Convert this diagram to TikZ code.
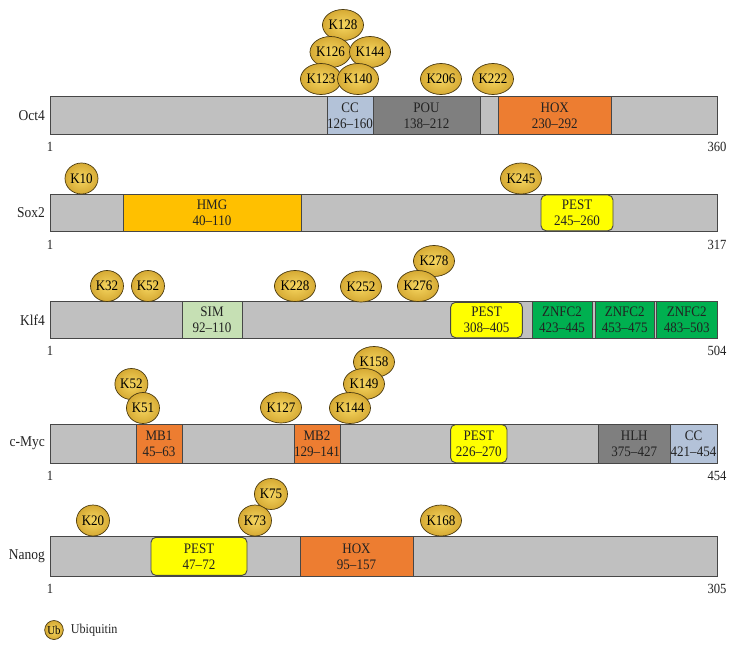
\documentclass[tikz,border=0pt]{standalone}
\usepackage{fontspec}
\setmainfont{Liberation Serif}[FakeStretch=0.9]
\usetikzlibrary{shapes.geometric}
\definecolor{edge}{HTML}{474747}
\definecolor{bargrey}{HTML}{C0C0C0}
\definecolor{ccblue}{HTML}{B3C2D8}
\definecolor{dgrey}{HTML}{7F7F7F}
\definecolor{orng}{HTML}{ED7D31}
\definecolor{amber}{HTML}{FFC000}
\definecolor{pesty}{HTML}{FFFF00}
\definecolor{simg}{HTML}{C6E0B4}
\definecolor{zgreen}{HTML}{00B050}
\definecolor{txt}{HTML}{222222}
\definecolor{ubin}{HTML}{F6D660}
\definecolor{ubout}{HTML}{D6AA34}
\definecolor{ubedge}{HTML}{4A3A10}
\newcommand\dbox[7]{%
  \node[#1, minimum width={(#4)-(#3)}, minimum height={(#6)-(#5)}] (#2)
    at ({((#3)+(#4))/2},{((#5)+(#6))/2}) {#7};}
\begin{document}
\begin{tikzpicture}[x=1pt,y=-1pt,
  bar/.style={draw=edge, fill=bargrey, line width=0.9pt, inner sep=0pt, outer sep=0pt},
  dom/.style={draw=edge, line width=0.9pt, inner sep=0pt, outer sep=0pt, align=center,
    font=\fontsize{14.5}{16}\selectfont, text=txt},
  pest/.style={dom, fill=pesty, rounded corners=5pt},
  ub/.style={ellipse, draw=ubedge, line width=0.7pt, inner color=ubin, outer color=ubout,
    minimum width=33pt, minimum height=31pt, inner sep=0pt, text=black,
    font=\fontsize{14.5}{15}\selectfont},
  plab/.style={anchor=east, inner sep=0pt, font=\fontsize{15}{15}\selectfont, text=txt},
  num/.style={anchor=north, inner sep=0pt, font=\fontsize{14}{14}\selectfont, text=txt}]
\useasboundingbox (0,0) rectangle (736,648);

% ---------------- Oct4
\dbox{bar}{oct}{50}{717}{96.7}{134.3}{}
\dbox{dom, fill=ccblue}{octcc}{327}{373}{96.7}{134.3}{CC\\126–160}
\dbox{dom, fill=dgrey}{octpou}{373}{480}{96.7}{134.3}{POU\\138–212}
\dbox{dom, fill=orng}{octhox}{498.5}{611}{96.7}{134.3}{HOX\\230–292}
\node[plab] (octlab) at ([xshift=-5pt]oct.west) {Oct4};
\node[num, below=8pt] (octa) at (oct.south west) {1};
\node[num, below=8pt] (octb) at (oct.south east) {360};
\node[ub] (o128) at (343,25) {K128};
\node[ub] (o126) at (330.5,52) {K126};
\node[ub] (o144) at (370,52) {K144};
\node[ub] (o123) at (321,79) {K123};
\node[ub] (o140) at (358,79) {K140};
\node[ub] (o206) at (441,79) {K206};
\node[ub] (o222) at (493,79) {K222};

% ---------------- Sox2
\dbox{bar}{sox}{50}{717}{194.3}{231.7}{}
\dbox{dom, fill=amber}{soxhmg}{123}{301}{194.3}{231.7}{HMG\\40–110}
\dbox{pest}{soxpest}{541}{613}{195}{230.7}{PEST\\245–260}
\node[plab] (soxlab) at ([xshift=-5pt]sox.west) {Sox2};
\node[num, below=8pt] (soxa) at (sox.south west) {1};
\node[num, below=8pt] (soxb) at (sox.south east) {317};
\node[ub] (s10) at (81.5,178.5) {K10};
\node[ub] (s245) at (521,178.5) {K245};

% ---------------- Klf4
\dbox{bar}{klf}{50}{717}{301.7}{338.3}{}
\dbox{dom, fill=simg}{klfsim}{182}{242}{301.7}{338.3}{SIM\\92–110}
\dbox{pest}{klfpest}{450.6}{522.4}{302.3}{337.7}{PEST\\308–405}
\dbox{dom, fill=zgreen}{klfz1}{532}{592}{301.7}{338.3}{ZNFC2\\423–445}
\dbox{dom, fill=zgreen}{klfz2}{595}{654.5}{301.7}{338.3}{ZNFC2\\453–475}
\dbox{dom, fill=zgreen}{klfz3}{656.5}{717}{301.7}{338.3}{ZNFC2\\483–503}
\node[plab] (klflab) at ([xshift=-5pt]klf.west) {Klf4};
\node[num, below=8pt] (klfa) at (klf.south west) {1};
\node[num, below=8pt] (klfb) at (klf.south east) {504};
\node[ub] (k278) at (434,261) {K278};
\node[ub] (k32) at (107,286) {K32};
\node[ub] (k52) at (148,286) {K52};
\node[ub] (k228) at (295,286) {K228};
\node[ub] (k252) at (361,286.5) {K252};
\node[ub] (k276) at (418,286) {K276};

% ---------------- c-Myc
\dbox{bar}{myc}{50}{717}{424}{463.3}{}
\dbox{dom, fill=orng}{mycmb1}{136}{182}{424}{463.3}{MB1\\45–63}
\dbox{dom, fill=orng}{mycmb2}{294}{340}{424}{463.3}{MB2\\129–141}
\dbox{pest}{mycpest}{450.6}{507}{424.6}{462.7}{PEST\\226–270}
\dbox{dom, fill=dgrey}{mychlh}{598.5}{670}{424}{463.3}{HLH\\375–427}
\dbox{dom, fill=ccblue}{myccc}{670}{717}{424}{463.3}{CC\\421–454}
\node[plab] (myclab) at ([xshift=-5pt]myc.west) {c-Myc};
\node[num, below=8pt] (myca) at (myc.south west) {1};
\node[num, below=8pt] (mycb) at (myc.south east) {454};
\node[ub] (m158) at (374,362) {K158};
\node[ub] (m52) at (131.4,384) {K52};
\node[ub] (m149) at (364,384) {K149};
\node[ub] (m51) at (143,408) {K51};
\node[ub] (m127) at (281,407.5) {K127};
\node[ub] (m144) at (350,408) {K144};

% ---------------- Nanog
\dbox{bar}{nan}{50}{717}{536.7}{576}{}
\dbox{pest}{nanpest}{151}{247}{537.3}{575.4}{PEST\\47–72}
\dbox{dom, fill=orng}{nanhox}{300}{413}{536.7}{576}{HOX\\95–157}
\node[plab] (nanlab) at ([xshift=-5pt]nan.west) {Nanog};
\node[num, below=8pt] (nana) at (nan.south west) {1};
\node[num, below=8pt] (nanb) at (nan.south east) {305};
\node[ub] (n75) at (271,494) {K75};
\node[ub] (n20) at (93,520.5) {K20};
\node[ub] (n73) at (255,520.5) {K73};
\node[ub] (n168) at (441,520.5) {K168};

% ---------------- legend
\node[ub, minimum width=18pt, minimum height=19pt, font=\fontsize{12}{12}\selectfont] (leg) at (54,630) {Ub};
\node[anchor=west, inner sep=0pt, font=\fontsize{13.5}{14}\selectfont, text=txt] (legt) at ([xshift=7pt]leg.east) {Ubiquitin};
\end{tikzpicture}
\end{document}
